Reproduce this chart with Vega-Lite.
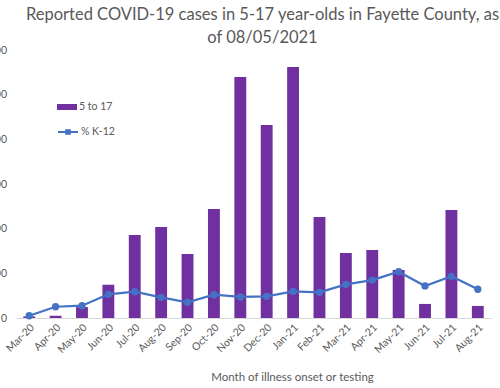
{
  "$schema": "https://vega.github.io/schema/vega-lite/v6.json",
  "width": 475,
  "height": 268,
  "autosize": {"type": "none"},
  "padding": {"left": 16, "top": 50, "right": 9, "bottom": 70},
  "background": "white",
  "config": {
    "view": {"stroke": null},
    "font": "Lato",
    "title": {"font": "Lato", "fontSize": 16.5, "fontWeight": "normal", "color": "#595959", "anchor": "middle", "dx": 9},
    "axis": {"labelFont": "Lato", "labelFontSize": 10.5, "labelColor": "#595959", "titleFont": "Lato", "titleFontWeight": "normal", "titleColor": "#595959", "grid": false, "ticks": false},
    "legend": {"labelFont": "Lato", "labelFontSize": 10.5, "labelColor": "#595959"}
  },
  "title": {"text": ["Reported COVID-19 cases in 5-17 year-olds in Fayette County, as", "of 08/05/2021"], "lineHeight": 23, "offset": -1},
  "data": {
    "values": [
      {"month": "Mar-20", "cases": 7, "pct": 0.21},
      {"month": "Apr-20", "cases": 10, "pct": 1.05},
      {"month": "May-20", "cases": 49, "pct": 1.15},
      {"month": "Jun-20", "cases": 149, "pct": 2.21},
      {"month": "Jul-20", "cases": 372, "pct": 2.45},
      {"month": "Aug-20", "cases": 407, "pct": 1.93},
      {"month": "Sep-20", "cases": 287, "pct": 1.46},
      {"month": "Oct-20", "cases": 488, "pct": 2.17},
      {"month": "Nov-20", "cases": 1079, "pct": 1.96},
      {"month": "Dec-20", "cases": 864, "pct": 2.02},
      {"month": "Jan-21", "cases": 1124, "pct": 2.49},
      {"month": "Feb-21", "cases": 452, "pct": 2.40},
      {"month": "Mar-21", "cases": 291, "pct": 3.14},
      {"month": "Apr-21", "cases": 304, "pct": 3.54},
      {"month": "May-21", "cases": 215, "pct": 4.32},
      {"month": "Jun-21", "cases": 63, "pct": 2.99},
      {"month": "Jul-21", "cases": 484, "pct": 3.89},
      {"month": "Aug-21", "cases": 54, "pct": 2.68}
    ]
  },
  "encoding": {
    "x": {
      "field": "month", "type": "nominal", "sort": null,
      "scale": {"paddingInner": 0.55, "paddingOuter": 0.275},
      "axis": {"title": "Month of illness onset or testing", "labelAngle": -45, "labelPadding": 4, "domainColor": "#D9D9D9", "domainWidth": 1, "titleFontSize": 11.5, "titleX": 276, "titleY": 53}
    }
  },
  "layer": [
    {
      "mark": {"type": "bar", "color": "#7030A0"},
      "encoding": {
        "y": {"field": "cases", "type": "quantitative", "scale": {"domain": [0, 1200]}, "axis": {"title": null, "values": [0, 200, 400, 600, 800, 1000, 1200], "domain": false, "labelPadding": 9.5}},
        "color": {"datum": "5 to 17", "type": "nominal", "scale": {"range": ["#7030A0"]},
          "legend": {"title": null, "orient": "none", "legendX": 41, "legendY": 47, "symbolType": "M-1,-0.3H1V0.3H-1Z", "symbolSize": 400, "symbolStrokeWidth": 0, "labelOffset": 2}}
      }
    },
    {
      "mark": {"type": "line", "strokeWidth": 2.25, "point": {"filled": true, "size": 28, "color": "#4472C4"}},
      "encoding": {
        "y": {"field": "pct", "type": "quantitative", "scale": {"domain": [0, 25]}, "axis": null},
        "stroke": {"datum": "% K-12", "type": "nominal", "scale": {"range": ["#4472C4"]},
          "legend": {"title": null, "orient": "none", "legendX": 41, "legendY": 71, "symbolType": "M-1,0H1M-0.18,-0.18H0.18V0.18H-0.18Z", "symbolSize": 400, "symbolStrokeWidth": 2, "symbolFillColor": "#4472C4", "labelOffset": 2}}
      }
    }
  ],
  "resolve": {"scale": {"y": "independent", "color": "independent"}}
}
